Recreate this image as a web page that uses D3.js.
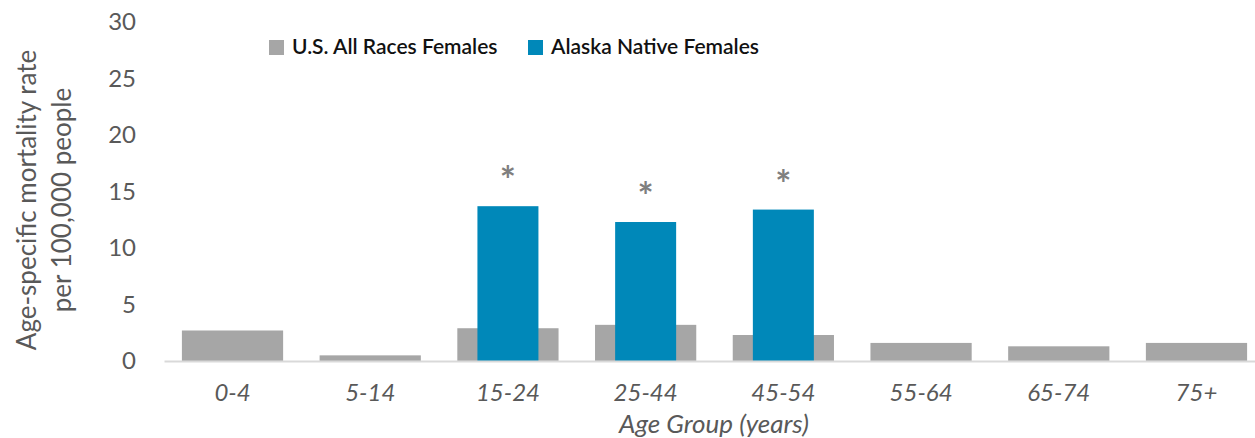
<!DOCTYPE html>
<html>
<head>
<meta charset="utf-8">
<script src="https://cdn.jsdelivr.net/npm/d3@7"></script>
<style>
  body { margin: 0; background: #fff; }
  svg text { font-family: "Lato", "Open Sans", sans-serif; }
</style>
</head>
<body>
<div class="canvas"></div>
<script>
// data
const ageGroups = ['0-4', '5-14', '15-24', '25-44', '45-54', '55-64', '65-74', '75+'];
const usAllRaces = [2.7, 0.5, 2.9, 3.2, 2.3, 1.6, 1.3, 1.6];
const alaskaNative = [null, null, 13.7, 12.3, 13.4, null, null, null];
const significant = ['15-24', '25-44', '45-54'];
const yTicks = [0, 5, 10, 15, 20, 25, 30];
const seriesNames = ['U.S. All Races Females', 'Alaska Native Females'];
const colors = ['#a6a6a6', '#0088b9'];

const width = 1255, height = 438;

const svg = d3.select('.canvas')
  .append('svg')
  .attr('width', width)
  .attr('height', height);

// scales
const x = d3.scaleBand()
  .domain(ageGroups)
  .range([164, 1265])
  .paddingInner(0.265)
  .paddingOuter(0.13);

const y = d3.scaleLinear()
  .domain([0, 30])
  .range([361, 22]);

const blueWidth = 61;

// y axis labels (no line)
const yAxis = d3.axisLeft(y).tickValues(yTicks).tickSize(0).tickPadding(0);
const yAxisGroup = svg.append('g')
  .attr('transform', 'translate(136,0)')
  .call(yAxis);
yAxisGroup.select('.domain').remove();
yAxisGroup.selectAll('text')
  .attr('font-size', 24)
  .attr('fill', '#595959')
  .attr('dy', '0.33em')
  .style('font-family', 'Lato, sans-serif');

// gray bars
svg.append('g').selectAll('rect')
  .data(ageGroups)
  .enter().append('rect')
  .attr('x', d => x(d))
  .attr('width', x.bandwidth())
  .attr('y', (d, i) => y(usAllRaces[i]))
  .attr('height', (d, i) => y(0) - y(usAllRaces[i]))
  .attr('fill', colors[0]);

// blue bars
const blueData = ageGroups.map((g, i) => ({ g, v: alaskaNative[i] })).filter(d => d.v != null);
svg.append('g').selectAll('rect')
  .data(blueData)
  .enter().append('rect')
  .attr('x', d => x(d.g) + x.bandwidth() / 2 - blueWidth / 2)
  .attr('width', blueWidth)
  .attr('y', d => y(d.v))
  .attr('height', d => y(0) - y(d.v))
  .attr('fill', colors[1]);

// asterisks
svg.append('g').selectAll('text')
  .data(blueData.filter(d => significant.includes(d.g)))
  .enter().append('text')
  .attr('x', d => x(d.g) + x.bandwidth() / 2)
  .attr('y', d => y(d.v) - 12)
  .attr('text-anchor', 'middle')
  .attr('font-size', 38)
  .attr('font-weight', 'bold')
  .attr('fill', '#7f7f7f')
  .text('*');

// x axis
const xAxis = d3.axisBottom(x).tickSize(0).tickPadding(0);
const xAxisGroup = svg.append('g')
  .attr('transform', `translate(0,${y(0)})`)
  .call(xAxis);
xAxisGroup.select('.domain')
  .attr('stroke', '#d9d9d9')
  .attr('stroke-width', 2);
xAxisGroup.selectAll('text')
  .attr('font-size', 24)
  .attr('font-style', 'italic')
  .attr('fill', '#595959')
  .attr('y', 40)
  .attr('dy', 0)
  .style('font-family', 'Lato, sans-serif');

// x axis title
svg.append('text')
  .attr('x', 714)
  .attr('y', 433)
  .attr('text-anchor', 'middle')
  .attr('font-size', 26)
  .attr('font-style', 'italic')
  .attr('fill', '#595959')
  .text('Age Group (years)');

// y axis title
const yTitle = svg.append('text')
  .attr('transform', 'translate(0,200) rotate(-90)')
  .attr('text-anchor', 'middle')
  .attr('font-size', 26)
  .attr('fill', '#595959');
yTitle.append('tspan').attr('x', 0).attr('y', 36).text('Age-specific mortality rate');
yTitle.append('tspan').attr('x', 0).attr('y', 71).text('per 100,000 people');

// legend
const legend = svg.append('g');
const legendX = [269, 528];
seriesNames.forEach((name, i) => {
  legend.append('rect')
    .attr('x', legendX[i])
    .attr('y', 40)
    .attr('width', 15)
    .attr('height', 15)
    .attr('fill', colors[i]);
  legend.append('text')
    .attr('x', legendX[i] + 23)
    .attr('y', 54)
    .attr('font-size', 21)
    .attr('font-weight', 600)
    .attr('fill', '#111')
    .text(name);
});
</script>
</body>
</html>
